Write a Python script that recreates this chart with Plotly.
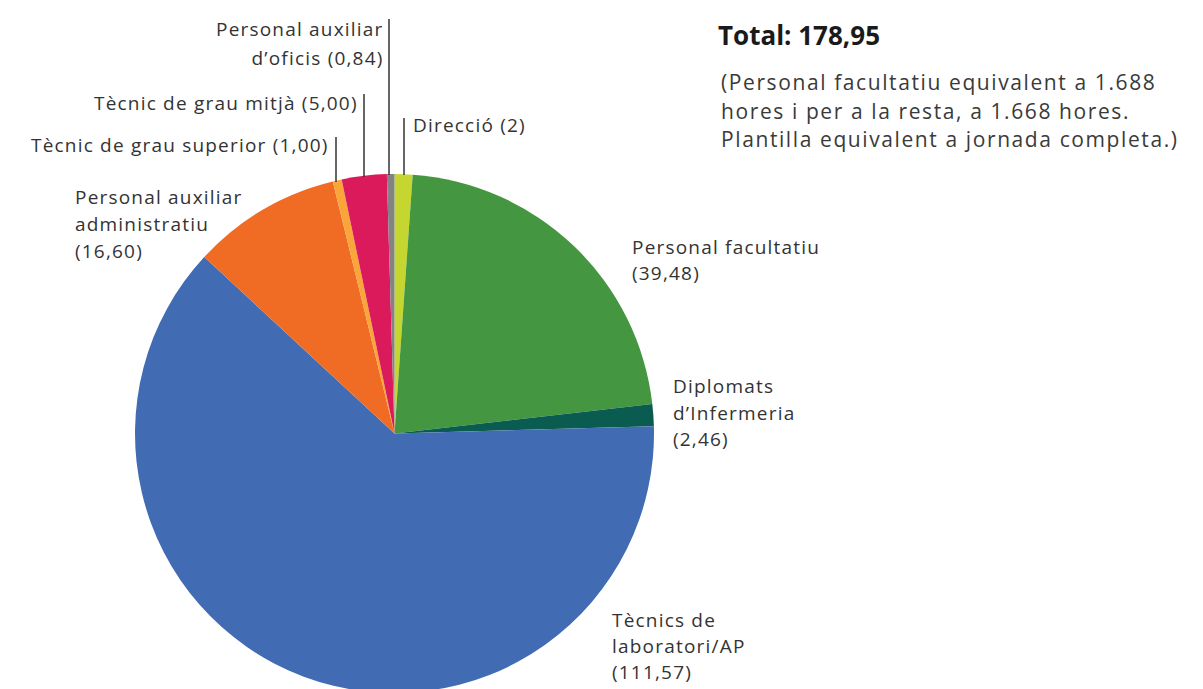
import plotly.graph_objects as go

# ---- data ----
categories = [
    "Direcció",
    "Personal facultatiu",
    "Diplomats d’Infermeria",
    "Tècnics de laboratori/AP",
    "Personal auxiliar administratiu",
    "Tècnic de grau superior",
    "Tècnic de grau mitjà",
    "Personal auxiliar d’oficis",
]
values = [2, 39.48, 2.46, 111.57, 16.60, 1.00, 5.00, 0.84]
value_texts = ["2", "39,48", "2,46", "111,57", "16,60", "1,00", "5,00", "0,84"]
label_lines = [
    ["Direcció (2)"],
    ["Personal facultatiu", "(39,48)"],
    ["Diplomats", "d’Infermeria", "(2,46)"],
    ["Tècnics de", "laboratori/AP", "(111,57)"],
    ["Personal auxiliar", "administratiu", "(16,60)"],
    ["Tècnic de grau superior (1,00)"],
    ["Tècnic de grau mitjà (5,00)"],
    ["Personal auxiliar", "d’oficis (0,84)"],
]
title_text = "Total: 178,95"
note_lines = [
    "(Personal facultatiu equivalent a 1.688",
    "hores i per a la resta, a 1.668 hores.",
    "Plantilla equivalent a jornada completa.)",
]

# ---- styles / layout ----
colors = ["#c5d630", "#449641", "#0a5c51", "#416bb3", "#f06c24", "#f9a53a", "#db1a5c", "#838383"]
W, H = 1203, 694
FONT = "Open Sans"
TXT = "#333333"
LABEL_SIZE = 19.0
LABEL_LS = 1.2
NOTE_SIZE = 21.0
NOTE_LS = 1.6
NOTE_DY = 28.7

def px(x):
    return x / W

def py(y):
    return (H - y) / H

def block(lines, size, ls):
    return "<br>".join(
        '<span style="font-size:%gpx;letter-spacing:%gpx">%s</span>' % (size, ls, l) for l in lines)

# label placement: (x, anchor, first line centre y, line spacing)
label_pos = [
    (412, "left", 125, 26.5),
    (631, "left", 247, 26.0),
    (672, "left", 386, 26.5),
    (611, "left", 620, 26.0),
    (74, "left", 197, 27.0),
    (330, "right", 145, 27.0),
    (359, "right", 103, 27.0),
    (385, "right", 29, 28.5),
]
leaders = [
    (404, 118, 175),
    (336, 137, 182),
    (364, 94, 177),
    (389, 19, 175),
]

# pie geometry (pixels)
cx, cy, r = 394.5, 433.5, 259.5

fig = go.Figure(go.Pie(
    labels=categories,
    values=values,
    marker=dict(colors=colors, line=dict(width=0)),
    sort=False,
    direction="clockwise",
    rotation=0,
    textinfo="none",
    hoverinfo="label+value",
    domain=dict(x=[px(cx - r), px(cx + r)], y=[py(cy + r), py(cy - r)]),
    showlegend=False,
))

annotations = []
for lines, (x, anchor, y0, dy) in zip(label_lines, label_pos):
    n = len(lines)
    base = dy / 1.3 if n > 1 else LABEL_SIZE
    annotations.append(dict(
        text=block(lines, LABEL_SIZE, LABEL_LS), x=px(x), y=py(y0 + (n - 1) * dy / 2),
        xref="paper", yref="paper", align=anchor,
        xanchor=anchor, yanchor="middle", showarrow=False, borderpad=0,
        font=dict(family=FONT, size=base, color=TXT),
    ))

annotations.append(dict(
    text="<b>" + title_text + "</b>", x=px(717), y=py(35), xref="paper", yref="paper",
    xanchor="left", yanchor="middle", showarrow=False, borderpad=0,
    font=dict(family=FONT, size=26, color="#1a1a1a"),
))
annotations.append(dict(
    text=block(note_lines, NOTE_SIZE, NOTE_LS), x=px(720), y=py(82 + 28), xref="paper", yref="paper",
    xanchor="left", yanchor="middle", align="left", showarrow=False, borderpad=0,
    font=dict(family=FONT, size=NOTE_DY / 1.3, color="#3a3a3a"),
))

shapes = []
for x, y0, y1 in leaders:
    shapes.append(dict(type="line", xref="paper", yref="paper",
                       x0=px(x), x1=px(x), y0=py(y0), y1=py(y1),
                       line=dict(color="#333333", width=1.5)))

fig.update_layout(
    width=W, height=H,
    margin=dict(l=0, r=0, t=0, b=0),
    paper_bgcolor="white", plot_bgcolor="white",
    annotations=annotations,
    shapes=shapes,
    font=dict(family=FONT, color=TXT),
)

fig.write_html("out.html", config={"displayModeBar": False},
               post_script="document.body.style.margin='0';document.body.style.overflow='hidden';")
